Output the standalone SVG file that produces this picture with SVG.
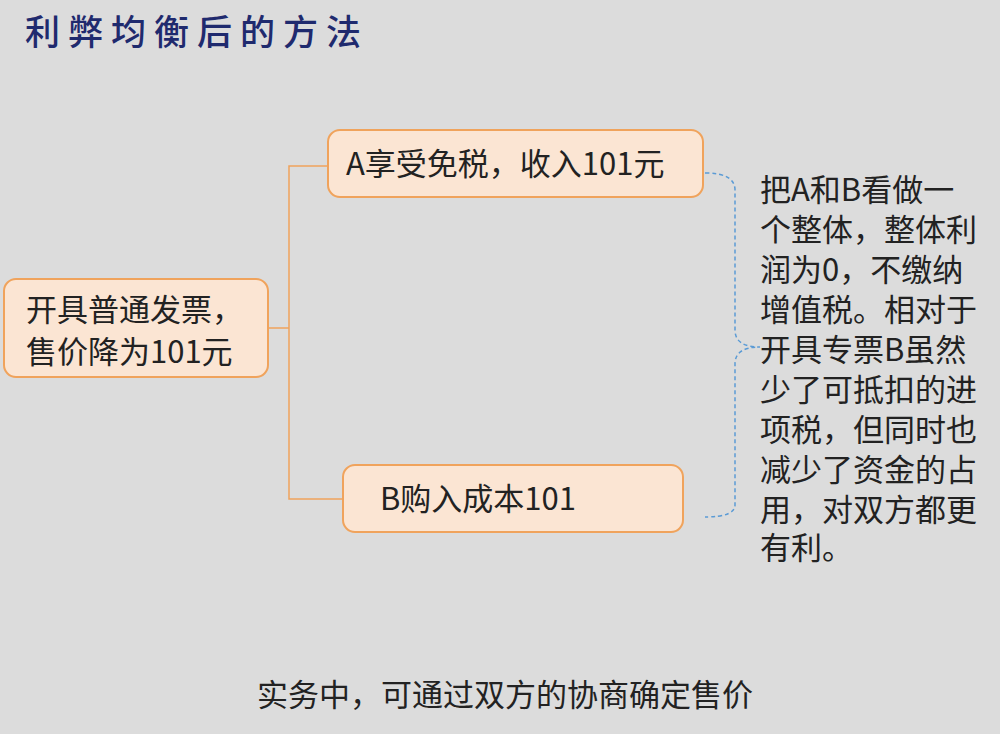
<svg xmlns="http://www.w3.org/2000/svg" width="1000" height="734" viewBox="0 0 1000 734">
<style>
text{font-family:"Noto Sans CJK SC","Noto Sans",sans-serif;fill:#222}
.box{fill:#fbe5d3;stroke:#f0a35c;stroke-width:2}
.t{font-size:31px}
</style>
<rect width="1000" height="734" fill="#dcdcdc"/>
<text x="25" y="45" font-size="35" font-weight="500" style="fill:#1f2a6e;letter-spacing:8px">利弊均衡后的方法</text>
<g id="connectors" fill="none">
<path d="M268 328 H289 M328 166 H289 V499 H343" stroke="#f0a35c" stroke-width="1.5"/>
<path d="M705 173 Q735 173 735 190 V330 Q735 347 760 347 Q735 347 735 364 V505 Q735 517 705 517" stroke="#5b9bd5" stroke-width="1.5" stroke-dasharray="4,3"/>
</g>
<g id="left"><rect class="box" x="4" y="279" width="264" height="98" rx="12"/>
<text class="t" x="26" y="321">开具普通发票，</text><text class="t" x="26" y="363">售价降为101元</text></g>
<g id="a"><rect class="box" x="328" y="130" width="375" height="67" rx="12"/>
<text class="t" x="346" y="175">A享受免税，收入101元</text></g>
<g id="b"><rect class="box" x="343" y="465" width="340" height="67" rx="12"/>
<text class="t" x="380" y="510">B购入成本101</text></g>
<g id="note">
<text class="t" x="760" y="201">把A和B看做一</text>
<text class="t" x="760" y="241">个整体，整体利</text>
<text class="t" x="760" y="281">润为0，不缴纳</text>
<text class="t" x="760" y="321">增值税。相对于</text>
<text class="t" x="760" y="361">开具专票B虽然</text>
<text class="t" x="760" y="401">少了可抵扣的进</text>
<text class="t" x="760" y="441">项税，但同时也</text>
<text class="t" x="760" y="481">减少了资金的占</text>
<text class="t" x="760" y="521">用，对双方都更</text>
<text class="t" x="760" y="559">有利。</text>
</g>
<text class="t" x="505" y="706" text-anchor="middle">实务中，可通过双方的协商确定售价</text>
</svg>
